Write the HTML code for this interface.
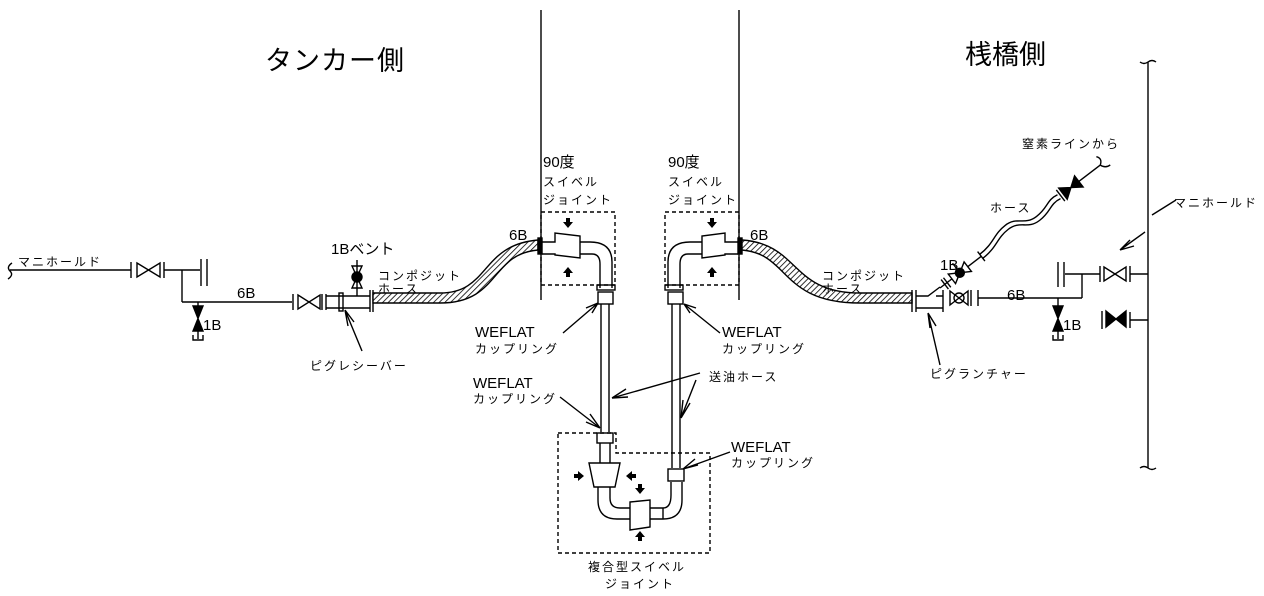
<!DOCTYPE html>
<html><head><meta charset="utf-8"><style>
html,body{margin:0;padding:0;background:#fff}
svg{display:block}
text{font-family:"Liberation Sans","Noto Sans CJK JP",sans-serif;fill:#000}
.j{font-size:12px;letter-spacing:2px}
.w{font-size:15px}
</style></head><body>
<svg width="1264" height="596" viewBox="0 0 1264 596" xmlns="http://www.w3.org/2000/svg">
<defs>
<pattern id="h" width="4" height="4" patternUnits="userSpaceOnUse" patternTransform="rotate(45)">
<rect width="4" height="4" fill="#fff"/><line x1="0" y1="0" x2="0" y2="4" stroke="#000" stroke-width="1.6"/>
</pattern>
</defs>
<g stroke="#000" stroke-width="1.4" fill="none">
<line x1="541" y1="10" x2="541" y2="300"/>
<line x1="739" y1="10" x2="739" y2="300"/>
<line x1="1148" y1="62" x2="1148" y2="468"/>
<path d="M1148 62 q4 -3 8 0 M1148 62 q-4 3 -8 0 M1148 468 q4 3 8 0 M1148 468 q-4 -3 -8 0"/>

<!-- LEFT side -->
<path d="M12 263 q-6 4 -2 8 q4 4 -2 8"/>
<line x1="10" y1="270" x2="131" y2="270"/>
<line x1="131" y1="262" x2="131" y2="278"/>
<path d="M137 263 L160 277 L160 263 L137 277 Z"/>
<line x1="164" y1="262" x2="164" y2="278"/>
<line x1="164" y1="270" x2="200" y2="270"/>
<line x1="201" y1="259" x2="201" y2="286"/><line x1="207" y1="259" x2="207" y2="286"/>
<line x1="182" y1="270" x2="182" y2="302"/>
<line x1="182" y1="302" x2="292" y2="302"/>
<path d="M198 302 L198 306"/>
<path d="M193 306 L203 306 L193 331 L203 331 Z" fill="#000"/>
<path d="M198 331 L198 339 M193 335 L193 340 L203 340 L203 335"/>
<line x1="293" y1="294" x2="293" y2="310"/>
<path d="M298 295 L320 309 L320 295 L298 309 Z"/>
<line x1="322" y1="294" x2="322" y2="310"/>
<line x1="326" y1="294" x2="326" y2="310"/>
<line x1="326" y1="296" x2="370" y2="296"/><line x1="326" y1="308" x2="370" y2="308"/>
<rect x="339" y="293" width="4" height="18"/>
<line x1="357" y1="296" x2="357" y2="260"/>
<path d="M352 266 L362 266 L352 288 L362 288 Z"/>
<circle cx="357" cy="277" r="5" fill="#000"/>
<line x1="370" y1="290" x2="370" y2="312"/><line x1="373" y1="290" x2="373" y2="312"/>
<path d="M373 293 L440 293 C490 293 480 245 538 240 L538 250 C490 254 500 303 440 303 L373 303 Z" fill="url(#h)"/>
<rect x="538" y="238" width="4" height="16" fill="#000"/>

<!-- left 90 swivel -->
<rect x="541" y="212" width="74" height="73" stroke-dasharray="4 3"/>
<path d="M542 242 L555 242 L555 233 L580 236 L580 258 L555 255 L555 254 L542 254"/>
<path d="M580 242 L590 242 Q612 242 612 262 L612 288 M580 254 L592 254 Q600 254 600 264 L600 288"/>
<rect x="597" y="285" width="18" height="5"/>
<rect x="598" y="292" width="15" height="12"/>
<line x1="601" y1="304" x2="601" y2="432"/><line x1="609" y1="304" x2="609" y2="432"/>
<!-- right 90 swivel -->
<rect x="665" y="212" width="74" height="73" stroke-dasharray="4 3"/>
<path d="M738 242 L725 242 L725 233 L702 236 L702 258 L725 255 L725 254 L738 254"/>
<path d="M702 242 L690 242 Q668 242 668 262 L668 288 M702 254 L688 254 Q680 254 680 264 L680 288"/>
<rect x="665" y="285" width="18" height="5"/>
<rect x="668" y="292" width="15" height="12"/>
<line x1="672" y1="304" x2="672" y2="468"/><line x1="680" y1="304" x2="680" y2="468"/>
<rect x="738" y="238" width="4" height="16" fill="#000"/>
<path d="M742 240 C800 244 790 293 860 293 L912 293 L912 303 L860 303 C780 303 790 254 742 250 Z" fill="url(#h)"/>

<!-- bottom compound swivel -->
<path d="M558 433 L616 433 L616 453 L710 453 L710 553 L558 553 Z" stroke-dasharray="4 3"/>
<rect x="597" y="433" width="16" height="10"/>
<path d="M600 443 L600 463 M610 443 L610 463"/>
<path d="M589 463 L620 463 L615 487 L594 487 Z"/>
<path d="M598 487 L598 500 Q598 519 617 519 L630 519 M610 487 L610 498 Q610 508 620 508 L630 508"/>
<path d="M630 502 L650 500 L650 527 L630 530 Z"/>
<path d="M650 508 L663 508 M650 519 L663 519 M663 508 L663 519"/>
<path d="M663 508 Q671 508 671 495 L671 482 M663 519 Q682 519 682 500 L682 482"/>
<rect x="668" y="469" width="16" height="12"/>

<!-- RIGHT side equipment -->
<line x1="912" y1="290" x2="912" y2="312"/><line x1="916" y1="290" x2="916" y2="312"/>
<path d="M916 296 L928 296 L940 287 M916 308 L943 308 M936 296 L943 296"/>
<line x1="943" y1="290" x2="943" y2="312"/>
<path d="M950 291 L968 305 L968 291 L950 305 Z"/>
<circle cx="959" cy="298" r="5"/>
<line x1="971" y1="290" x2="971" y2="306"/>
<line x1="978" y1="290" x2="978" y2="306"/>
<line x1="978" y1="298" x2="1082" y2="298"/>
<line x1="1082" y1="298" x2="1082" y2="274"/>
<line x1="1065" y1="274" x2="1100" y2="274"/>
<line x1="1058" y1="262" x2="1058" y2="287"/><line x1="1064" y1="262" x2="1064" y2="287"/>
<line x1="1100" y1="266" x2="1100" y2="282"/>
<path d="M1104 267 L1126 281 L1126 267 L1104 281 Z"/>
<line x1="1130" y1="266" x2="1130" y2="282"/>
<line x1="1130" y1="274" x2="1148" y2="274"/>
<line x1="1102" y1="311" x2="1102" y2="329"/>
<path d="M1106 311 L1126 327 L1126 311 L1106 327 Z" fill="#000"/>
<line x1="1130" y1="312" x2="1130" y2="328"/>
<line x1="1130" y1="320" x2="1148" y2="320"/>
<path d="M1058 298 L1058 306"/>
<path d="M1053 306 L1063 306 L1053 331 L1063 331 Z" fill="#000"/>
<path d="M1058 331 L1058 339 M1053 335 L1053 340 L1063 340 L1063 335"/>
<!-- nitrogen line -->
<g transform="translate(940,288) rotate(-37.5)">
<line x1="0" y1="0" x2="12" y2="0"/>
<line x1="6" y1="-6" x2="6" y2="6"/><line x1="9" y1="-6" x2="9" y2="6"/>
<line x1="12" y1="0" x2="15" y2="0"/>
<path d="M15 -6 L35 6 L35 -6 L15 6 Z"/>
<line x1="25" y1="0" x2="25" y2="-12"/>
<circle cx="25" cy="0" r="4.5" fill="#000"/>
<line x1="35" y1="0" x2="52" y2="0"/>
<line x1="52" y1="-6" x2="52" y2="6"/>
<path d="M52 -2.5 C70 -2.5 75 -10 90 -10 C105 -10 105 2 120 2 C135 2 138 -5 150 -2.5"/>
<path d="M52 2.5 C70 2.5 75 -5 90 -5 C105 -5 105 7 120 7 C135 7 138 0 150 2.5"/>
<line x1="152" y1="-7" x2="152" y2="7"/>
<path d="M155 -7 L175 7 L175 -7 L155 7 Z" fill="#000"/>
<line x1="175" y1="0" x2="202" y2="0"/>
<path d="M202 0 q6 -4 2 -9 M202 0 q2 6 8 6"/>
</g>

<!-- leader lines -->
<path d="M1152 215 L1176 200"/>
<path d="M1145 232 L1120 250 M1120 250 L1130 240 M1120 250 L1134 246"/>
<path d="M940 365 L928 313 M928 313 L930 328 M928 313 L936 326"/>
<path d="M362 351 L345 310 M345 310 L348 326 M345 310 L354 322"/>
<path d="M563 333 L598 303 M598 303 L586 308 M598 303 L592 313"/>
<path d="M720 333 L684 304 M684 304 L690 313 M684 304 L696 308"/>
<path d="M560 397 L600 428 M600 428 L590 414 M600 428 L586 422"/>
<path d="M700 373 L612 398 M612 398 L626 389 M612 398 L628 397"/>
<path d="M696 380 L681 418 M681 418 L683 400 M681 418 L690 403"/>
<path d="M730 452 L683 469 M683 469 L695 459 M683 469 L698 465"/>
</g>
<g fill="#000">
<path d="M566 218 h4 v4 h3 l-5 6 l-5 -6 h3z"/>
<path d="M566 277 h4 v-4 h3 l-5 -6 l-5 6 h3z"/>
<path d="M710 218 h4 v4 h3 l-5 6 l-5 -6 h3z"/>
<path d="M710 277 h4 v-4 h3 l-5 -6 l-5 6 h3z"/>
<path d="M574 474 v4 h4 v3 l6 -5 l-6 -5 v3z"/>
<path d="M636 474 v4 h-4 v3 l-6 -5 l6 -5 v3z"/>
<path d="M638 484 h4 v4 h3 l-5 6 l-5 -6 h3z"/>
<path d="M638 541 h4 v-4 h3 l-5 -6 l-5 6 h3z"/>
</g>
<text x="265" y="70" style="font-size:27px;letter-spacing:1px">タンカー側</text>
<text x="965" y="64" style="font-size:27px">桟橋側</text>
<text x="18" y="266" class="j">マニホールド</text>
<text x="237" y="298" class="w">6B</text>
<text x="203" y="330" class="w">1B</text>
<text x="331" y="254" class="w">1Bベント</text>
<text x="378" y="280" class="j">コンポジット</text>
<text x="378" y="293" class="j">ホース</text>
<text x="310" y="370" class="j">ピグレシーバー</text>
<text x="509" y="240" class="w">6B</text>
<text x="543" y="167" class="w">90度</text>
<text x="543" y="186" class="j">スイベル</text>
<text x="543" y="204" class="j">ジョイント</text>
<text x="668" y="167" class="w">90度</text>
<text x="668" y="186" class="j">スイベル</text>
<text x="668" y="204" class="j">ジョイント</text>
<text x="750" y="240" class="w">6B</text>
<text x="822" y="280" class="j">コンポジット</text>
<text x="822" y="293" class="j">ホース</text>
<text x="475" y="337" class="w">WEFLAT</text>
<text x="475" y="353" class="j">カップリング</text>
<text x="722" y="337" class="w">WEFLAT</text>
<text x="722" y="353" class="j">カップリング</text>
<text x="473" y="388" class="w">WEFLAT</text>
<text x="473" y="403" class="j">カップリング</text>
<text x="709" y="381" class="j">送油ホース</text>
<text x="731" y="452" class="w">WEFLAT</text>
<text x="731" y="467" class="j">カップリング</text>
<text x="588" y="571" class="j">複合型スイベル</text>
<text x="605" y="588" class="j">ジョイント</text>
<text x="1022" y="148" class="j">窒素ラインから</text>
<text x="990" y="212" class="j">ホース</text>
<text x="940" y="270" class="w">1B</text>
<text x="1007" y="300" class="w">6B</text>
<text x="1063" y="330" class="w">1B</text>
<text x="1174" y="207" class="j">マニホールド</text>
<text x="930" y="378" class="j">ピグランチャー</text>
</svg>
</body></html>
